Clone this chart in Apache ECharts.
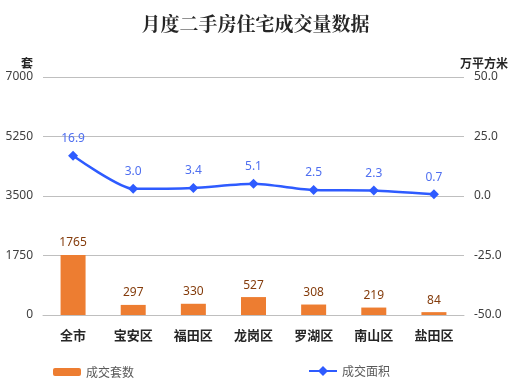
<!DOCTYPE html>
<html><head><meta charset="utf-8">
<script src="https://cdn.jsdelivr.net/npm/echarts@6/dist/echarts.min.js"></script>
<style>html,body{margin:0;padding:0;background:#fff}#c{width:511px;height:384px}</style>
</head><body><div id="c"></div>
<script>
const categories = ['全市','宝安区','福田区','龙岗区','罗湖区','南山区','盐田区'];
const units = [1765, 297, 330, 527, 308, 219, 84];
const area = [16.9, 3.0, 3.4, 5.1, 2.5, 2.3, 0.7];
const leftTicks = [0, 7000, 1750];
const rightTicks = [-50, 50, 25];

const chart = echarts.init(document.getElementById('c'));
chart.setOption({
  animation: false,
  backgroundColor: '#fff',
  title: {
    text: '月度二手房住宅成交量数据',
    left: 'center', top: 9,
    textStyle: {fontFamily: 'Noto Serif CJK SC, Noto Sans CJK SC', fontSize: 19, fontWeight: 'bold', color: '#262626'}
  },
  legend: [
    {data: ['成交套数'], left: 48, top: 361, itemWidth: 28, itemHeight: 8, itemGap: 4,
     textStyle: {color: '#595959', fontSize: 12, fontFamily: 'Noto Sans CJK SC'}},
    {data: [{name: '成交面积', icon: 'path://M0,4L10,4L14,0L18,4L28,4L28,6L18,6L14,10L10,6L0,6Z'}], left: 304, top: 360, itemWidth: 28, itemHeight: 10, itemGap: 4,
     textStyle: {color: '#595959', fontSize: 12, fontFamily: 'Noto Sans CJK SC'}}
  ],
  grid: {left: 43, right: 44, top: 77, bottom: 69},
  xAxis: {
    type: 'category', data: categories,
    axisTick: {show: false},
    axisLine: {lineStyle: {color: '#bfbfbf'}},
    axisLabel: {color: '#262626', fontWeight: 'bold', fontSize: 13, margin: 14, fontFamily: 'Noto Sans CJK SC'}
  },
  yAxis: [
    {type: 'value', min: leftTicks[0], max: leftTicks[1], interval: leftTicks[2],
     name: '套', nameGap: 8, nameTextStyle: {color: '#262626', fontWeight: 'bold', fontSize: 12, align: 'right', padding: [0, 10, 0, 0], fontFamily: 'Noto Sans CJK SC'},
     axisLabel: {color: '#404040', fontSize: 12, margin: 10, fontFamily: 'Noto Sans', formatter: v => String(v)},
     splitLine: {lineStyle: {color: '#bfbfbf'}}, axisLine: {show: false}, axisTick: {show: false}},
    {type: 'value', min: rightTicks[0], max: rightTicks[1], interval: rightTicks[2],
     name: '万平方米', nameGap: 8, nameTextStyle: {color: '#262626', fontWeight: 'bold', fontSize: 12, align: 'left', padding: [0, 0, 0, -4], fontFamily: 'Noto Sans CJK SC'},
     axisLabel: {color: '#404040', fontSize: 12, margin: 10, fontFamily: 'Noto Sans', formatter: v => v.toFixed(1)},
     splitLine: {show: false}, axisLine: {show: false}, axisTick: {show: false}}
  ],
  series: [
    {name: '成交套数', type: 'bar', data: units, barWidth: 25, yAxisIndex: 0,
     itemStyle: {color: '#ed7d31'},
     label: {show: true, position: 'top', distance: 6, color: '#843c0c', fontSize: 12, fontFamily: 'Noto Sans'}},
    {name: '成交面积', type: 'line', data: area, yAxisIndex: 1, smooth: 0.2,
     symbol: 'diamond', symbolSize: 10,
     lineStyle: {color: '#2e5bff', width: 2.5}, itemStyle: {color: '#2e5bff'},
     label: {show: true, position: 'top', distance: 6, color: '#4f6ff0', fontSize: 12, fontFamily: 'Noto Sans',
       formatter: p => p.value.toFixed(1)}}
  ]
});
</script></body></html>
